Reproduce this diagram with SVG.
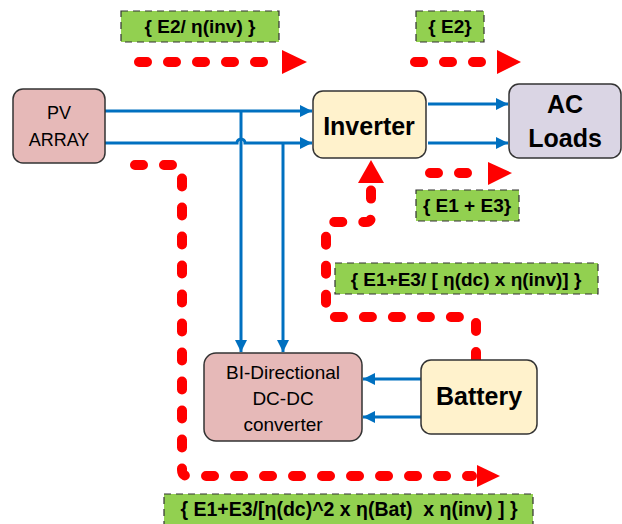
<svg xmlns="http://www.w3.org/2000/svg" width="622" height="524" viewBox="0 0 622 524">
<style>
.node{stroke:#333;stroke-width:1.5}
.pink{fill:#e6b9b8}
.yellow{fill:#fff2cc}
.purple{fill:#dad5e4}
.lbl{fill:#92d050;stroke:#333;stroke-width:1.2;stroke-dasharray:7 5}
.t{font-family:"Liberation Sans",Arial,sans-serif;fill:#000;text-anchor:middle}
.b{font-weight:bold}
.blue{fill:none;stroke:#0070c0;stroke-width:3}
.red{fill:none;stroke:#ff0000;stroke-width:10;stroke-linecap:round;stroke-linejoin:round;stroke-dasharray:8 21}
.head{fill:#ff0000}
</style>
<defs>
<marker id="ba" markerUnits="userSpaceOnUse" markerWidth="12" markerHeight="12" refX="12" refY="6" orient="auto">
<path d="M0,0 L12,6 L0,12 z" fill="#0070c0"/>
</marker>
</defs>
<g id="connectors">
<path class="blue" d="M105,111 H312" marker-end="url(#ba)"/>
<path class="blue" d="M105,143 H237 A4,4 0 0 1 245,143 H312" marker-end="url(#ba)"/>
<path class="blue" d="M241,111 V352" marker-end="url(#ba)"/>
<path class="blue" d="M283,143 V352" marker-end="url(#ba)"/>
<path class="blue" d="M428,104 H508" marker-end="url(#ba)"/>
<path class="blue" d="M428,143 H508" marker-end="url(#ba)"/>
<path class="blue" d="M421,379 H363" marker-end="url(#ba)"/>
<path class="blue" d="M421,417 H363" marker-end="url(#ba)"/>
<path class="red" d="M139,62 H280"/>
<polygon class="head" points="282,50 307,62 282,74"/>
<path class="red" d="M415,62 H494"/>
<polygon class="head" points="497,50 521,62 497,74"/>
<path class="red" d="M430,173 H484"/>
<polygon class="head" points="488,162 512,173 488,185"/>
<path class="red" d="M135,165 H176 Q182,165 182,171 V470 Q182,476 188,476 H472"/>
<polygon class="head" points="477,465 500,476 477,487"/>
<path class="red" d="M476,360 V322 Q476,317 471,317 H331 Q326,317 326,312 V227 Q326,222 331,222 H366 Q371,222 371,217 V186"/>
<polygon class="head" points="358,183 371,160 384,183"/>
</g>
<g id="pv-array">
<rect class="node pink" x="13" y="89" width="92" height="74" rx="10"/>
<text class="t" x="59" y="119" font-size="18">PV</text>
<text class="t" x="59" y="146" font-size="18">ARRAY</text>
</g>
<g id="inverter">
<rect class="node yellow" x="313" y="91" width="113" height="67" rx="10"/>
<text class="t b" x="369" y="135" font-size="25">Inverter</text>
</g>
<g id="ac-loads">
<rect class="node purple" x="509" y="84" width="112" height="74" rx="10"/>
<text class="t b" x="565" y="113" font-size="25">AC</text>
<text class="t b" x="565" y="147" font-size="25">Loads</text>
</g>
<g id="dc-dc">
<rect class="node pink" x="204" y="353" width="158" height="88" rx="12"/>
<text class="t" x="283" y="379" font-size="19">BI-Directional</text>
<text class="t" x="283" y="405" font-size="19">DC-DC</text>
<text class="t" x="283" y="431" font-size="19">converter</text>
</g>
<g id="battery">
<rect class="node yellow" x="421" y="360" width="116" height="74" rx="10"/>
<text class="t b" x="479" y="405" font-size="25">Battery</text>
</g>
<g id="label-e2-inv">
<rect class="lbl" x="121" y="11" width="158" height="31"/>
<text class="t b" x="200" y="33" font-size="19">{ E2/ η(inv) }</text>
</g>
<g id="label-e2">
<rect class="lbl" x="416" y="11" width="68" height="31"/>
<text class="t b" x="450" y="33" font-size="19">{ E2}</text>
</g>
<g id="label-e1e3">
<rect class="lbl" x="416" y="190" width="103" height="31"/>
<text class="t b" x="467" y="212" font-size="19">{ E1 + E3}</text>
</g>
<g id="label-dc-inv">
<rect class="lbl" x="335" y="263" width="263" height="31"/>
<text class="t b" x="466" y="286" font-size="19">{ E1+E3/ [ η(dc) x η(inv)] }</text>
</g>
<g id="label-bat">
<rect class="lbl" x="164" y="494" width="369" height="32"/>
<text class="t b" x="349" y="516" font-size="19.5" xml:space="preserve">{ E1+E3/[η(dc)^2 x η(Bat)  x η(inv) ] }</text>
</g>
</svg>
